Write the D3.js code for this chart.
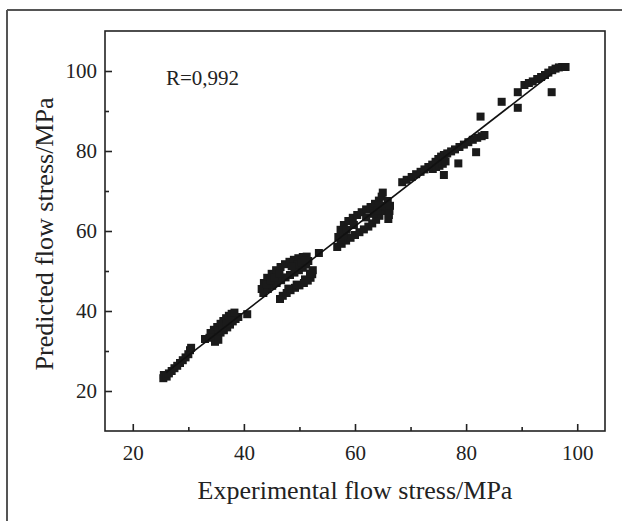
<!DOCTYPE html>
<html><head><meta charset="utf-8">
<script src="https://cdn.jsdelivr.net/npm/d3@7"></script>
<style>
html,body{margin:0;padding:0;background:#fff;}
svg{display:block;}
text{font-family:"Liberation Serif","Times New Roman",serif;fill:#222;}
</style></head>
<body>
<svg id="chart" width="622" height="521"></svg>
<script>
// ---- data (experimental, predicted) ----
const clusterA = [[25.5,23.2],[25.6,24.0],[26.1,23.6],[26.5,24.4],[27.0,25.0],[27.5,25.7],[28.0,26.3],[28.5,27.0],[29.0,27.7],[29.5,28.4],[30.0,29.2],[30.3,30.2],[30.5,30.8]];
const clusterB = [[33.0,33.0],[33.8,33.3],[34.5,33.6],[35.2,34.0],[35.8,34.6],[36.4,35.2],[37.0,35.9],[37.5,36.6],[38.0,37.4],[38.5,38.0],[39.0,38.5],
  [34.0,34.5],[34.6,35.3],[35.2,36.0],[35.8,36.8],[36.3,37.5],[36.8,38.2],[37.3,38.8],[37.8,39.3],[38.3,39.6],
  [35.5,35.2],[36.2,36.0],[36.9,36.9],[37.5,37.7],
  [34.8,32.3],[35.4,32.8],[40.6,39.2]];
const clusterC = [[43.2,45.5],[43.6,47.0],[44.2,48.3],[45.0,49.3],[45.8,50.2],[46.6,51.0],[47.4,51.7],[48.2,52.3],[49.0,52.8],[49.8,53.2],[50.6,53.5],[51.3,53.6],
  [43.5,44.5],[44.3,45.5],[45.1,46.3],[45.9,47.0],[46.7,47.7],[47.5,48.4],[48.3,49.0],[49.1,49.6],[49.9,50.2],[50.6,50.8],[51.2,51.6],[51.6,52.5],
  [44.0,46.6],[44.8,47.6],[45.5,48.4],[49.6,51.6],[50.3,52.1],[51.0,52.6],[46.4,49.4],[48.6,51.2],
  [46.5,43.0],[47.0,43.8],[47.7,44.5],[48.4,45.2],[49.2,45.8],[50.0,46.4],[50.8,47.0],[51.5,47.6],[52.0,48.3],[52.3,49.2],[52.4,50.2],
  [48.0,45.6],[49.5,46.6],[51.0,47.9],[51.9,49.4],
  [53.5,54.5]];
const clusterD = [[57.0,58.5],[57.4,60.3],[58.0,61.5],[58.8,62.5],[59.6,63.3],[60.4,64.0],[61.2,64.7],[62.0,65.4],[62.8,66.0],[63.6,66.8],[64.3,67.6],[64.8,68.6],[65.0,69.6],
  [56.8,56.0],[57.6,56.8],[58.4,57.6],[59.2,58.3],[60.0,59.0],[60.8,59.7],[61.6,60.4],[62.4,61.1],[63.1,61.9],[63.8,62.8],[64.4,63.8],[64.9,65.0],[65.2,66.2],
  [57.4,57.8],[58.0,59.0],[58.5,60.3],[63.4,64.3],[64.0,65.2],[64.5,66.3],[59.8,61.5],[62.0,63.4],
  [66.0,63.0],[66.1,64.0],[66.2,65.0],[66.3,66.3],[65.9,67.5]];
const clusterE = [[68.5,72.2],[69.3,72.8],[70.2,73.5],[71.0,74.2],[71.8,74.8],[72.5,75.4],[73.2,76.0],[73.9,76.6],[74.5,77.3],[75.0,78.0],[75.5,78.6],[76.0,79.0],[76.6,79.4],[77.3,79.9],[78.0,80.4],[78.8,81.0],[79.6,81.6],[80.4,82.2],[81.2,82.8],[82.0,83.3],[82.8,83.7],[83.3,84.0],
  [74.0,75.5],[74.6,76.0],[75.2,76.3],[75.8,76.8],[76.3,77.4]];
const outliers = [[76.0,74.0],[78.6,76.9],[81.8,79.7],[82.6,88.6],[86.4,92.3],[89.3,94.7],[89.3,90.8],[95.4,94.7]];
const clusterF = [[90.5,96.5],[91.3,97.0],[92.0,97.4],[92.8,98.0],[93.5,98.5],[94.2,99.0],[94.8,99.6],[95.5,100.2],[96.1,100.6],[96.7,100.9],[97.3,101.0],[97.9,101.0]];
const fitLine = [[26.0,24.6],[95.5,99.4]];
const xTicks = [20,40,60,80,100];
const xMinor = [30,50,70,90];
const yTicks = [20,40,60,80,100];
const yMinor = [30,50,70,90];
const xLabel = "Experimental flow stress/MPa";
const yLabel = "Predicted flow stress/MPa";
const note = "R=0,992";

const points = [].concat(clusterA, clusterB, clusterC, clusterD, clusterE, outliers, clusterF);

const svg = d3.select("#chart");
const L = 105, R = 605, T = 31, B = 431;
const x = d3.scaleLinear().domain([15,105]).range([L,R]);
const y = d3.scaleLinear().domain([10,110]).range([B,T]);

// outer frame
svg.append("line").attr("x1",7).attr("x2",622).attr("y1",10).attr("y2",10).attr("stroke","#555").attr("stroke-width",2);
svg.append("line").attr("x1",7).attr("x2",7).attr("y1",10).attr("y2",521).attr("stroke","#555").attr("stroke-width",2);

// plot box
svg.append("rect").attr("x",L).attr("y",T).attr("width",R-L).attr("height",B-T)
  .attr("fill","none").attr("stroke","#222").attr("stroke-width",1.6);

function styleAxis(g){
  g.select(".domain").remove();
  g.selectAll("line").attr("stroke","#222").attr("stroke-width",1.6);
  g.selectAll("text").style("font-size","21px").attr("fill","#222");
}
svg.append("g").attr("transform",`translate(0,${B})`)
  .call(d3.axisBottom(x).tickValues(xTicks).tickSize(-7).tickPadding(14).tickFormat(d3.format("d")))
  .call(styleAxis);
svg.append("g").attr("transform",`translate(0,${B})`)
  .call(d3.axisBottom(x).tickValues(xMinor).tickSize(-4).tickFormat(""))
  .call(styleAxis);
svg.append("g").attr("transform",`translate(${L},0)`)
  .call(d3.axisLeft(y).tickValues(yTicks).tickSize(-7).tickPadding(8).tickFormat(d3.format("d")))
  .call(styleAxis);
svg.append("g").attr("transform",`translate(${L},0)`)
  .call(d3.axisLeft(y).tickValues(yMinor).tickSize(-4).tickFormat(""))
  .call(styleAxis);

// markers
const s = 8;
svg.append("g").selectAll("rect").data(points).join("rect")
  .attr("x",d=>x(d[0])-s/2).attr("y",d=>y(d[1])-s/2)
  .attr("width",s).attr("height",s).attr("fill","#1a1a1a");

// fit line
svg.append("line")
  .attr("x1",x(fitLine[0][0])).attr("y1",y(fitLine[0][1]))
  .attr("x2",x(fitLine[1][0])).attr("y2",y(fitLine[1][1]))
  .attr("stroke","#111").attr("stroke-width",1.6);

// texts
svg.append("text").attr("x",166).attr("y",85).style("font-size","21px").text(note);
svg.append("text").attr("x",(L+R)/2).attr("y",499).attr("text-anchor","middle").style("font-size","26px").text(xLabel);
svg.append("text").attr("transform",`translate(53,${(T+B)/2+3}) rotate(-90)`).attr("text-anchor","middle").style("font-size","26px").text(yLabel);
</script>
</body></html>
